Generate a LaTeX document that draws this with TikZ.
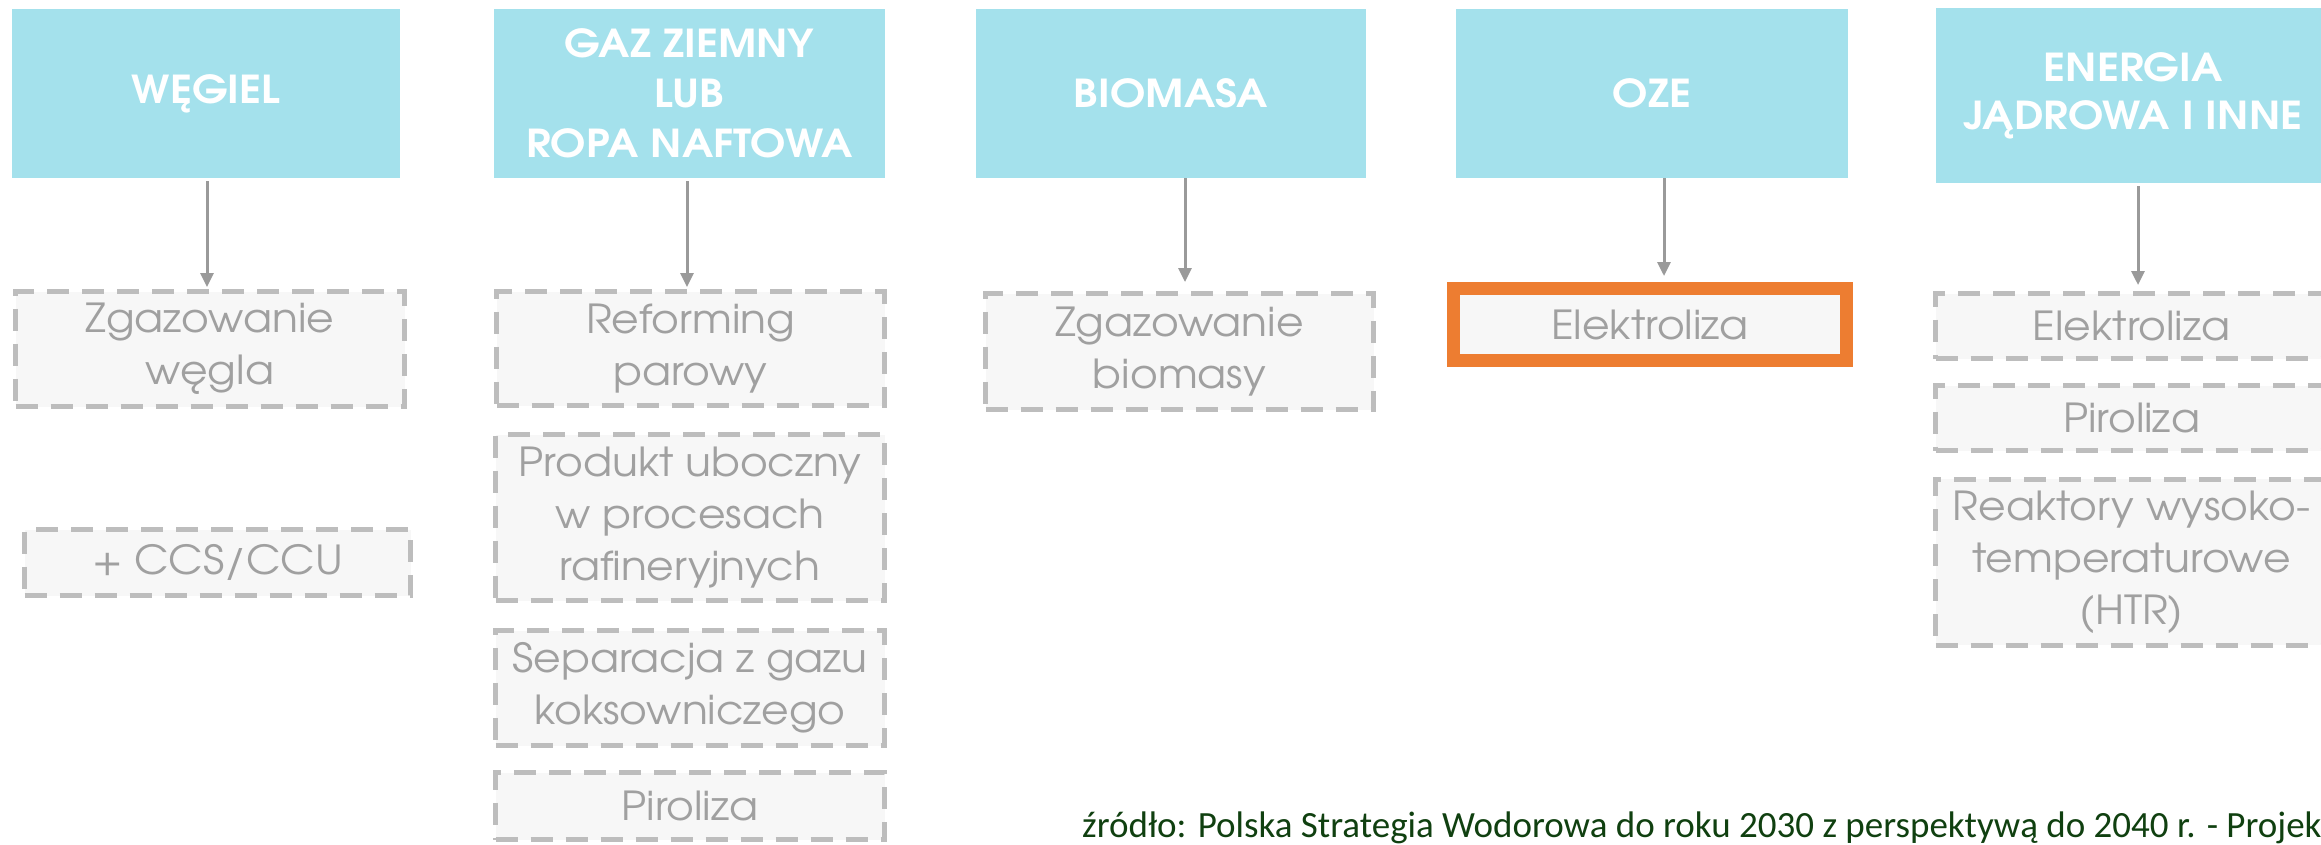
\documentclass[tikz,border=0pt]{standalone}
\usepackage{fontspec}
\setmainfont{texgyreadventor}[Extension=.otf, UprightFont=*-regular, BoldFont=*-bold, FakeStretch=1.06]
\newfontfamily\hdrfont{texgyreadventor-bold}[Extension=.otf, FakeStretch=1.1]
\newfontfamily\footfont{Carlito}
\usetikzlibrary{arrows.meta}
\definecolor{hdrc}{HTML}{A4E1EC}
\definecolor{txtg}{HTML}{A0A0A0}
\definecolor{boxf}{HTML}{F7F7F7}
\definecolor{dashc}{HTML}{BDBDBD}
\definecolor{orng}{HTML}{ED7D31}
\definecolor{arrc}{HTML}{9A9A9A}
\definecolor{footc}{HTML}{104010}
\begin{document}
\begin{tikzpicture}[x=1pt,y=-1pt,
 hdr/.style={fill=hdrc, draw=none, inner sep=0pt, text=white, font=\hdrfont\fontsize{38.5}{50}\selectfont, align=center},
 sub/.style={fill=boxf, draw=dashc, line width=5pt, dash pattern=on 22pt off 13pt, inner sep=0pt, text=txtg, font=\fontsize{40}{52}\selectfont, align=center},
 hot/.style={fill=boxf, draw=orng, line width=13pt, inner sep=0pt, text=txtg, font=\fontsize{40}{52}\selectfont, align=center},
 arr/.style={draw=arrc, line width=3pt, -{Triangle[length=14pt,width=13pt]}}
]
\clip (0,0) rectangle (2321,844);
\fill[white] (0,0) rectangle (2321,844);

% headers
\node[hdr, minimum width=388pt, minimum height=169pt] (h1) at (206,93.5) {WĘGIEL};
\node[hdr, minimum width=391pt, minimum height=169pt] (h2) at (689.5,93.5) {GAZ ZIEMNY\\LUB\\ROPA NAFTOWA};
\node[hdr, minimum width=390pt, minimum height=169pt] (h3) at (1171,93.5) {BIOMASA};
\node[hdr, minimum width=392pt, minimum height=169pt] (h4) at (1652,93.5) {OZE};
\node[hdr, minimum width=394pt, minimum height=175pt] (h5) at (2133,95.5) {\raisebox{-11pt}{\begin{tabular}{@{}c@{}}ENERGIA\\[-2pt]JĄDROWA I INNE\end{tabular}}};

% column 1
\node[sub, minimum width=389pt, minimum height=115pt] (b1) at (210,349) {Zgazowanie\\węgla};
\node[sub, minimum width=386pt, minimum height=66pt] (c1) at (217.5,562.5) {+ CCS/CCU};

% column 2
\node[sub, minimum width=388pt, minimum height=114pt] (b2) at (690.5,348.5) {Reforming\\parowy};
\node[sub, minimum width=389pt, minimum height=166pt] (p2) at (690,517.5) {Produkt uboczny\\w procesach\\rafineryjnych};
\node[sub, minimum width=389pt, minimum height=115pt] (s2) at (690,688) {Separacja z gazu\\koksowniczego};
\node[sub, minimum width=389pt, minimum height=67pt] (r2) at (690,806) {Piroliza};

% column 3
\node[sub, minimum width=388pt, minimum height=116pt] (b3) at (1179.5,351.5) {Zgazowanie\\biomasy};

% column 4
\node[hot, minimum width=393pt, minimum height=72pt] (b4) at (1650,324.5) {Elektroliza};

% column 5
\node[sub, minimum width=392pt, minimum height=65pt] (e5) at (2131.5,326) {Elektroliza};
\node[sub, minimum width=392pt, minimum height=65pt] (p5) at (2131.5,418) {Piroliza};
\node[sub, minimum width=392pt, minimum height=166pt] (r5) at (2131.5,562) {Reaktory wysoko-\\temperaturowe\\(HTR)};

% arrow positions
\coordinate (a1) at (207,0);
\coordinate (a2) at (687,0);
\coordinate (a3) at (1185,0);
\coordinate (a4) at (1664,0);
\coordinate (a5) at (2138,0);

\draw[arr, shorten <=3pt, shorten >=2pt] (h1.south -| a1) -- (b1.north -| a1);
\draw[arr, shorten <=3pt, shorten >=2pt] (h2.south -| a2) -- (b2.north -| a2);
\draw[arr, shorten <=0pt, shorten >=9pt] (h3.south -| a3) -- (b3.north -| a3);
\draw[arr, shorten <=0pt, shorten >=6pt] (h4.south -| a4) -- (b4.north -| a4);
\draw[arr, shorten <=3pt, shorten >=6pt] (h5.south -| a5) -- (e5.north -| a5);

% source
\node[anchor=base west, inner sep=0pt, text=footc, font=\footfont\fontsize{37}{40}\selectfont] (src) at (1082,837) {źródło: Polska Strategia Wodorowa do roku 2030 z perspektywą do 2040 r. - Projekt};
\end{tikzpicture}
\end{document}
